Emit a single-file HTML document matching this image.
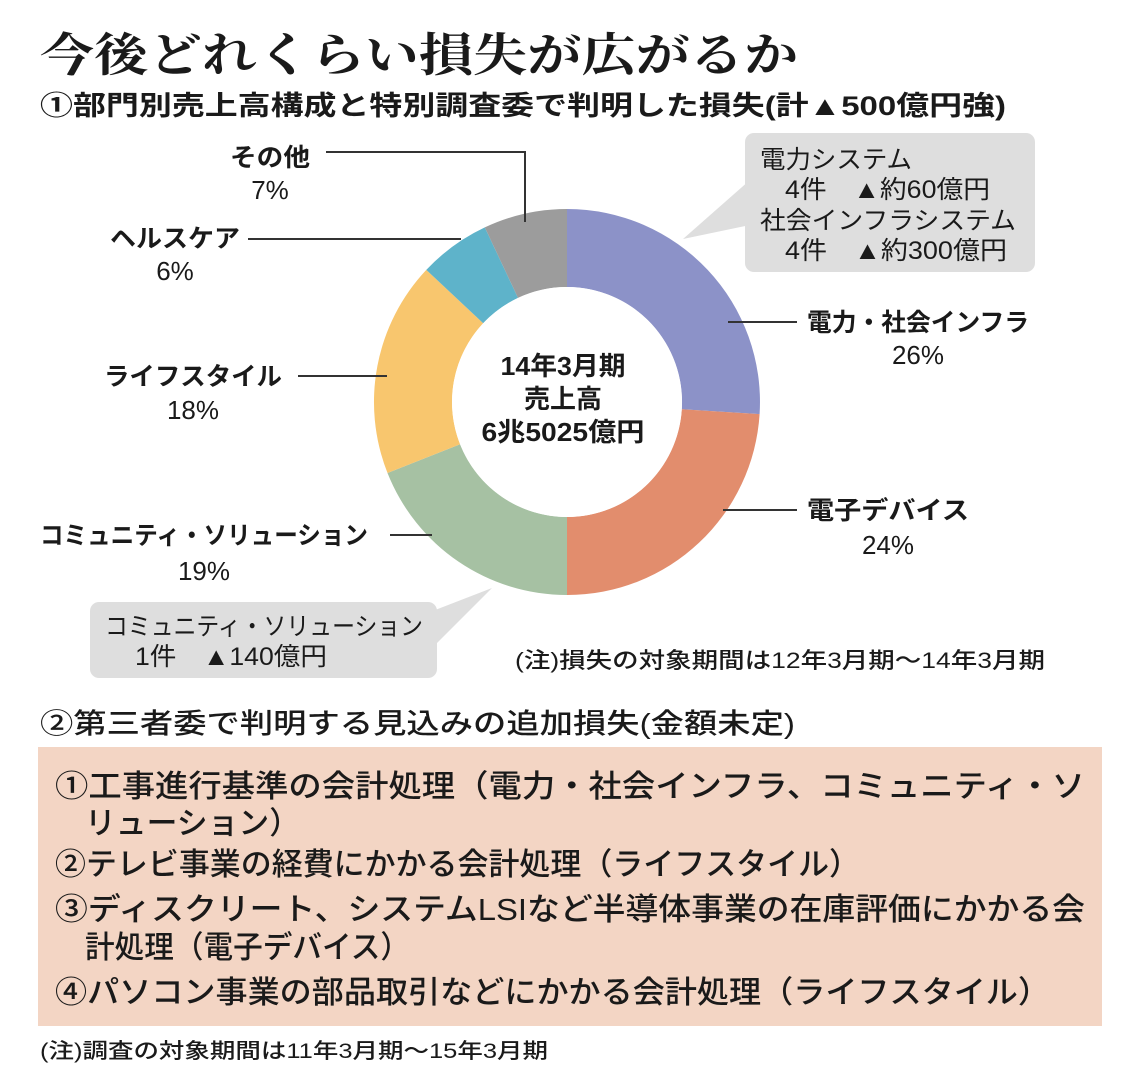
<!DOCTYPE html>
<html><head><meta charset="utf-8"><style>
html,body{margin:0;padding:0;background:#fff;}
svg{display:block;}
text{font-family:"Liberation Sans","Noto Sans CJK JP",sans-serif;fill:#1a1a1a;}
.b{font-weight:bold;}
.m{font-weight:500;}
</style></head><body>
<svg width="1140" height="1088" viewBox="0 0 1140 1088" xmlns="http://www.w3.org/2000/svg">
<rect width="1140" height="1088" fill="#fff"/>
<text x="40" y="71" font-size="46" style="font-family:'Liberation Serif','Noto Serif CJK JP',serif;font-weight:bold" textLength="758" lengthAdjust="spacingAndGlyphs">今後どれくらい損失が広がるか</text>
<text x="40" y="115" font-size="27" class="b" textLength="966" lengthAdjust="spacingAndGlyphs">①部門別売上高構成と特別調査委で判明した損失(計▲500億円強)</text>

<g transform="translate(567,402)">
<path d="M0,-193 A193,193 0 0 1 192.6,12.1 L114.8,7.2 A115,115 0 0 0 0,-115 Z" fill="#8c92c8"/>
<path d="M192.6,12.1 A193,193 0 0 1 0,193 L0,115 A115,115 0 0 0 114.8,7.2 Z" fill="#e28d6d"/>
<path d="M0,193 A193,193 0 0 1 -179.5,71 L-106.9,42.3 A115,115 0 0 0 0,115 Z" fill="#a6c1a3"/>
<path d="M-179.5,71 A193,193 0 0 1 -140.7,-132.1 L-83.8,-78.7 A115,115 0 0 0 -106.9,42.3 Z" fill="#f8c66e"/>
<path d="M-140.7,-132.1 A193,193 0 0 1 -82.2,-174.6 L-49,-104.1 A115,115 0 0 0 -83.8,-78.7 Z" fill="#5eb3ca"/>
<path d="M-82.2,-174.6 A193,193 0 0 1 0,-193 L0,-115 A115,115 0 0 0 -49,-104.1 Z" fill="#9c9c9c"/>
<circle r="115" fill="#fff"/>
</g>
<text x="563" y="375" font-size="26" class="b" text-anchor="middle" textLength="125" lengthAdjust="spacingAndGlyphs">14年3月期</text>
<text x="563" y="408" font-size="26" class="b" text-anchor="middle" textLength="78" lengthAdjust="spacingAndGlyphs">売上高</text>
<text x="563" y="441" font-size="26" class="b" text-anchor="middle" textLength="163" lengthAdjust="spacingAndGlyphs">6兆5025億円</text>

<g stroke="#333" stroke-width="2" fill="none">
<polyline points="326,152 525,152 525,222"/>
<line x1="248" y1="239" x2="461" y2="239"/>
<line x1="298" y1="376" x2="387" y2="376"/>
<line x1="390" y1="535" x2="432" y2="535"/>
<line x1="728" y1="322" x2="797" y2="322"/>
<line x1="723" y1="510" x2="797" y2="510"/>
</g>

<text x="270" y="166" font-size="25" class="b" text-anchor="middle" textLength="80" lengthAdjust="spacingAndGlyphs">その他</text>
<text x="270" y="199" font-size="26" text-anchor="middle">7%</text>
<text x="175" y="247" font-size="25" class="b" text-anchor="middle" textLength="130" lengthAdjust="spacingAndGlyphs">ヘルスケア</text>
<text x="175" y="280" font-size="26" text-anchor="middle">6%</text>
<text x="193" y="385" font-size="25" class="b" text-anchor="middle" textLength="178" lengthAdjust="spacingAndGlyphs">ライフスタイル</text>
<text x="193" y="419" font-size="26" text-anchor="middle">18%</text>
<text x="204" y="544" font-size="25" class="b" text-anchor="middle" textLength="328" lengthAdjust="spacingAndGlyphs">コミュニティ・ソリューション</text>
<text x="204" y="580" font-size="26" text-anchor="middle">19%</text>

<text x="918" y="331" font-size="25" class="b" text-anchor="middle" textLength="222" lengthAdjust="spacingAndGlyphs">電力・社会インフラ</text>
<text x="918" y="364" font-size="26" text-anchor="middle">26%</text>
<text x="888" y="519" font-size="25" class="b" text-anchor="middle" textLength="162" lengthAdjust="spacingAndGlyphs">電子デバイス</text>
<text x="888" y="554" font-size="26" text-anchor="middle">24%</text>

<polygon points="683,239 750,180 750,225" fill="#dedede"/>
<rect x="745" y="133" width="290" height="139" rx="9" fill="#dedede"/>
<text x="760" y="168" font-size="25" textLength="152" lengthAdjust="spacingAndGlyphs">電力システム</text>
<text x="785" y="198" font-size="25" textLength="205" lengthAdjust="spacingAndGlyphs">4件　▲約60億円</text>
<text x="760" y="229" font-size="25" textLength="256" lengthAdjust="spacingAndGlyphs">社会インフラシステム</text>
<text x="785" y="259" font-size="25" textLength="222" lengthAdjust="spacingAndGlyphs">4件　▲約300億円</text>

<polygon points="492,588 430,612 430,650" fill="#dedede"/>
<rect x="90" y="602" width="347" height="76" rx="9" fill="#dedede"/>
<text x="105" y="635" font-size="25" textLength="318" lengthAdjust="spacingAndGlyphs">コミュニティ・ソリューション</text>
<text x="135" y="665" font-size="25" textLength="192" lengthAdjust="spacingAndGlyphs">1件　▲140億円</text>

<text x="515" y="668" font-size="22" class="m" textLength="530" lengthAdjust="spacingAndGlyphs">(注)損失の対象期間は12年3月期～14年3月期</text>

<text x="40" y="733" font-size="28" class="m" textLength="755" lengthAdjust="spacingAndGlyphs">②第三者委で判明する見込みの追加損失(金額未定)</text>
<rect x="38" y="747" width="1064" height="279" fill="#f3d5c4"/>
<g font-size="31" class="m">
<text x="55" y="797" textLength="1030" lengthAdjust="spacingAndGlyphs">①工事進行基準の会計処理（電力・社会インフラ、コミュニティ・ソ</text>
<text x="85" y="834" textLength="215" lengthAdjust="spacingAndGlyphs">リューション）</text>
<text x="55" y="875" textLength="805" lengthAdjust="spacingAndGlyphs">②テレビ事業の経費にかかる会計処理（ライフスタイル）</text>
<text x="55" y="920" textLength="1030" lengthAdjust="spacingAndGlyphs">③ディスクリート、システムLSIなど半導体事業の在庫評価にかかる会</text>
<text x="85" y="958" textLength="325" lengthAdjust="spacingAndGlyphs">計処理（電子デバイス）</text>
<text x="55" y="1003" textLength="995" lengthAdjust="spacingAndGlyphs">④パソコン事業の部品取引などにかかる会計処理（ライフスタイル）</text>
</g>
<text x="40" y="1058" font-size="21" class="m" textLength="508" lengthAdjust="spacingAndGlyphs">(注)調査の対象期間は11年3月期～15年3月期</text>
</svg>
</body></html>
